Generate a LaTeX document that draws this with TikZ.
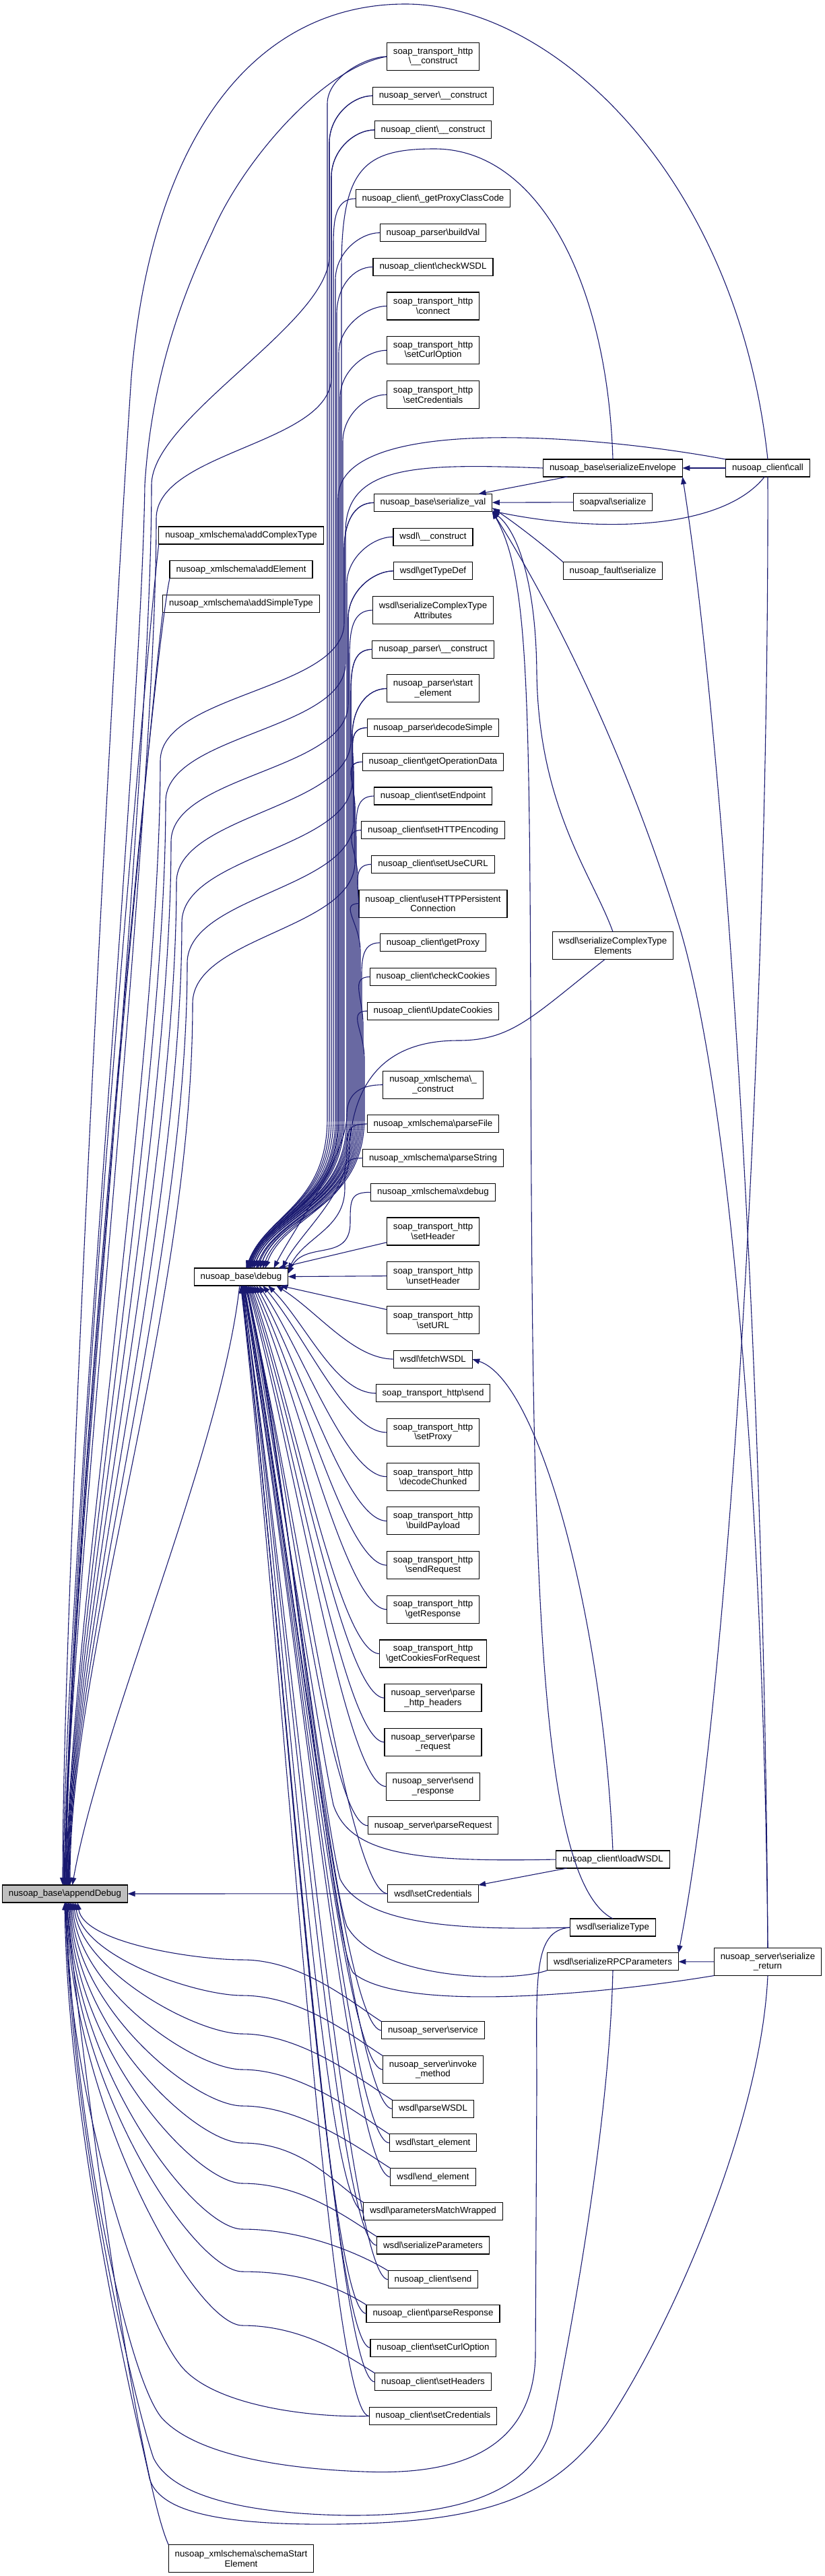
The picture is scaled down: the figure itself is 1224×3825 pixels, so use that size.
\documentclass[tikz,border=0pt]{standalone}
\usepackage{fontspec}
\newfontfamily\dxfont{Liberation Sans}
\usetikzlibrary{arrows.meta, positioning, calc}
\definecolor{dxedge}{RGB}{25, 25, 112}
\definecolor{dxsel}{RGB}{191, 191, 191}
\newcommand{\bsl}{\textbackslash}
% caller above debug: node, bundle x, anchor on debug
\newcommand{\calldn}[3]{%
  \draw[calls] (#1.west) .. controls +(-30,0) and +(0,-40) .. ($(#2,0 |- #1.west)+(0,70)$)
    -- (#2,1660) .. controls (#2,1790) and ($(debug.#3)+(30,-80)$) .. (debug.#3);}
% second edge of such a caller, down to appendDebug: node, bundle x, S top, lane x, S end, anchor
\newcommand{\calladb}[6]{%
  \draw[calls] (#1.west) .. controls +(-30,0) and +(0,-40) .. ($(#2,0 |- #1.west)+(0,70)$)
    -- (#2,#3) .. controls (#2,#3+100) and (#4,#5-100) .. (#4,#5)
    .. controls (#4,#5+450) and ($(appendDebug.#6)+(0,-350)$) .. (appendDebug.#6);}
% caller close above debug: node, bundle x, anchor
\newcommand{\callnear}[3]{%
  \draw[calls] (#1.west) .. controls +(-30,0) and +(0,-35) .. ($(#2,0 |- #1.west)+(0,45)$)
    .. controls +(0,60) and ($(debug.#3)+(25,-50)$) .. (debug.#3);}
% caller below debug: node, anchor on debug
\newcommand{\callup}[2]{%
  \draw[calls] (#1.west) .. controls +(-60,0) and ($(debug.#2)!0.35!(#1.west)$) .. (debug.#2);}
% caller below appendDebug: node, wave y, anchor, pull
\newcommand{\callbelow}[4]{%
  \draw[calls] (#1.north west) .. controls +(-40,-25) and +(90,0) .. (360,#2)
    .. controls (290,#2) and ($(appendDebug.#3)+(10,#4)$) .. (appendDebug.#3);}

\begin{document}
\begin{tikzpicture}[x=1pt, y=-1pt,
  node distance=24.7pt,
  fn/.style={rectangle, draw=black, line width=1.1pt, fill=white, align=center,
             font=\dxfont\fontsize{13.3}{14.7}\selectfont, outer sep=0pt,
             inner xsep=9.5pt, inner ysep=4pt, minimum height=26pt},
  fn2/.style={fn, minimum height=41pt},
  fnsel/.style={fn, fill=dxsel},
  calls/.style={draw=dxedge, line width=1.1pt, -{Triangle[length=11pt, width=8pt]}}
]
  \useasboundingbox (0,0) rectangle (1224,3825);

  % the function and its nearest callers
  \node[fnsel] (appendDebug) at (96.5,2812) {nusoap\_base\bsl{}appendDebug};
  \node[fn] (addct) at (358,795) {nusoap\_xmlschema\bsl{}addComplexType};
  \node[fn, below=of addct] (addel) {nusoap\_xmlschema\bsl{}addElement};
  \node[fn, below=of addel] (addst) {nusoap\_xmlschema\bsl{}addSimpleType};
  \node[fn] (debug) at (358,1896) {nusoap\_base\bsl{}debug};
  \node[fn2] (sse) at (358,3799) {nusoap\_xmlschema\bsl{}schemaStart\\Element};

  % callers of debug
  \node[fn2] (stcon) at (643,84) {soap\_transport\_http\\\bsl{}\_\_construct};
  \node[fn, below=of stcon] (srvcon) {nusoap\_server\bsl{}\_\_construct};
  \node[fn, below=of srvcon] (clicon) {nusoap\_client\bsl{}\_\_construct};
  \node[fn, below=76pt of clicon] (proxycode) {nusoap\_client\bsl{}\_getProxyClassCode};
  \node[fn, below=of proxycode] (buildval) {nusoap\_parser\bsl{}buildVal};
  \node[fn, below=of buildval] (checkwsdl) {nusoap\_client\bsl{}checkWSDL};
  \node[fn2, below=of checkwsdl] (connect) {soap\_transport\_http\\\bsl{}connect};
  \node[fn2, below=of connect] (stcurl) {soap\_transport\_http\\\bsl{}setCurlOption};
  \node[fn2, below=of stcurl] (stcred) {soap\_transport\_http\\\bsl{}setCredentials};
  \node[fn, below=127pt of stcred] (serval) {nusoap\_base\bsl{}serialize\_val};
  \node[fn, below=of serval] (wsdlcon) {wsdl\bsl{}\_\_construct};
  \node[fn, below=of wsdlcon] (typedef) {wsdl\bsl{}getTypeDef};
  \node[fn2, below=of typedef] (ctattr) {wsdl\bsl{}serializeComplexType\\Attributes};
  \node[fn, below=of ctattr] (parsercon) {nusoap\_parser\bsl{}\_\_construct};
  \node[fn2, below=of parsercon] (parserstart) {nusoap\_parser\bsl{}start\\\_element};
  \node[fn, below=of parserstart] (decsimple) {nusoap\_parser\bsl{}decodeSimple};
  \node[fn, below=of decsimple] (opdata) {nusoap\_client\bsl{}getOperationData};
  \node[fn, below=of opdata] (endpoint) {nusoap\_client\bsl{}setEndpoint};
  \node[fn, below=of endpoint] (httpenc) {nusoap\_client\bsl{}setHTTPEncoding};
  \node[fn, below=of httpenc] (usecurl) {nusoap\_client\bsl{}setUseCURL};
  \node[fn2, below=of usecurl] (persist) {nusoap\_client\bsl{}useHTTPPersistent\\Connection};
  \node[fn, below=of persist] (getproxy) {nusoap\_client\bsl{}getProxy};
  \node[fn, below=of getproxy] (checkcook) {nusoap\_client\bsl{}checkCookies};
  \node[fn, below=of checkcook] (updcook) {nusoap\_client\bsl{}UpdateCookies};
  \node[fn2, below=76pt of updcook] (xscon) {nusoap\_xmlschema\bsl{}\_\\\_construct};
  \node[fn, below=of xscon] (parsefile) {nusoap\_xmlschema\bsl{}parseFile};
  \node[fn, below=of parsefile] (parsestr) {nusoap\_xmlschema\bsl{}parseString};
  \node[fn, below=of parsestr] (xdebug) {nusoap\_xmlschema\bsl{}xdebug};
  \node[fn2, below=of xdebug] (sethdr) {soap\_transport\_http\\\bsl{}setHeader};
  \node[fn2, below=of sethdr] (unsethdr) {soap\_transport\_http\\\bsl{}unsetHeader};
  \node[fn2, below=of unsethdr] (seturl) {soap\_transport\_http\\\bsl{}setURL};
  \node[fn, below=of seturl] (fetch) {wsdl\bsl{}fetchWSDL};
  \node[fn, below=of fetch] (stsend) {soap\_transport\_http\bsl{}send};
  \node[fn2, below=of stsend] (setproxy) {soap\_transport\_http\\\bsl{}setProxy};
  \node[fn2, below=of setproxy] (chunked) {soap\_transport\_http\\\bsl{}decodeChunked};
  \node[fn2, below=of chunked] (payload) {soap\_transport\_http\\\bsl{}buildPayload};
  \node[fn2, below=of payload] (sendreq) {soap\_transport\_http\\\bsl{}sendRequest};
  \node[fn2, below=of sendreq] (getresp) {soap\_transport\_http\\\bsl{}getResponse};
  \node[fn2, below=of getresp] (cookreq) {soap\_transport\_http\\\bsl{}getCookiesForRequest};
  \node[fn2, below=of cookreq] (httphdr) {nusoap\_server\bsl{}parse\\\_http\_headers};
  \node[fn2, below=of httphdr] (parsereq) {nusoap\_server\bsl{}parse\\\_request};
  \node[fn2, below=of parsereq] (sendresp) {nusoap\_server\bsl{}send\\\_response};
  \node[fn, below=of sendresp] (parserequest) {nusoap\_server\bsl{}parseRequest};
  \node[fn, below=75pt of parserequest] (wsdlcred) {wsdl\bsl{}setCredentials};
  \node[fn, below=177pt of wsdlcred] (service) {nusoap\_server\bsl{}service};
  \node[fn2, below=of service] (invoke) {nusoap\_server\bsl{}invoke\\\_method};
  \node[fn, below=of invoke] (parsewsdl) {wsdl\bsl{}parseWSDL};
  \node[fn, below=of parsewsdl] (wstart) {wsdl\bsl{}start\_element};
  \node[fn, below=of wstart] (wend) {wsdl\bsl{}end\_element};
  \node[fn, below=of wend] (pmwrap) {wsdl\bsl{}parametersMatchWrapped};
  \node[fn, below=of pmwrap] (serparams) {wsdl\bsl{}serializeParameters};
  \node[fn, below=of serparams] (clisend) {nusoap\_client\bsl{}send};
  \node[fn, below=of clisend] (parseresp) {nusoap\_client\bsl{}parseResponse};
  \node[fn, below=of parseresp] (clicurl) {nusoap\_client\bsl{}setCurlOption};
  \node[fn, below=of clicurl] (clihdrs) {nusoap\_client\bsl{}setHeaders};
  \node[fn, below=of clihdrs] (clicred) {nusoap\_client\bsl{}setCredentials};

  % further callers
  \node[fn] (env) at (910,695) {nusoap\_base\bsl{}serializeEnvelope};
  \node[fn, below=of env] (soapser) {soapval\bsl{}serialize};
  \node[fn, below=76pt of soapser] (fault) {nusoap\_fault\bsl{}serialize};
  \node[fn2] (ctelem) at (910,1404) {wsdl\bsl{}serializeComplexType\\Elements};
  \node[fn] (loadwsdl) at (910,2761) {nusoap\_client\bsl{}loadWSDL};
  \node[fn, below=75pt of loadwsdl] (sertype) {wsdl\bsl{}serializeType};
  \node[fn, below=of sertype] (rpc) {wsdl\bsl{}serializeRPCParameters};
  \node[fn] (call) at (1140,695) {nusoap\_client\bsl{}call};
  \node[fn2] (serret) at (1140,2913) {nusoap\_server\bsl{}serialize\\\_return};

  % into appendDebug, from above
  \draw[calls] (call.north) .. controls (1095,260) and (820,6) .. (602,6)
    .. controls (380,6) and (225,200) .. (195,560)
    .. controls (172,900) and ($(appendDebug.105)+(0,-450)$) .. (appendDebug.105);
  \draw[calls] (stcon.west) .. controls (480,100) and (360,240) .. (315,345)
    .. controls (270,440) and (225,560) .. (215,720)
    .. controls (210,1100) and ($(appendDebug.100)+(0,-420)$) .. (appendDebug.100);
  \calladb{srvcon}{489}{380}{225}{720}{95}
  \calladb{clicon}{492}{560}{232}{770}{90}
  \draw[calls] (addct.south west) .. controls +(-15,120) and ($(appendDebug.87)+(0,-450)$) .. (appendDebug.87);
  \draw[calls] (addel.south west) .. controls +(-25,110) and ($(appendDebug.84)+(0,-450)$) .. (appendDebug.84);
  \draw[calls] (addst.south west) .. controls +(-12,90) and ($(appendDebug.81)+(0,-450)$) .. (appendDebug.81);
  \calladb{serval}{511}{925}{238}{1130}{78}
  \draw[calls] (env.west) .. controls (620,688) and (513,690) .. (513,790) -- (513,985)
    .. controls (513,1085) and (246,1090) .. (246,1190)
    .. controls (246,1640) and ($(appendDebug.75)+(0,-350)$) .. (appendDebug.75);
  \calladb{typedef}{517}{1045}{254}{1250}{72}
  \calladb{parsercon}{521}{1100}{262}{1310}{69}
  \calladb{parserstart}{523}{1160}{270}{1370}{66}
  \calladb{decsimple}{525}{1220}{278}{1430}{63}
  \calladb{opdata}{527}{1280}{286}{1490}{60}
  \draw[calls] (debug.-100) .. controls (330,2150) and (150,2560) .. (appendDebug.50);
  \draw[calls] (wsdlcred) -- (appendDebug);

  % into debug, from above
  \calldn{stcon}{486}{60}
  \calldn{srvcon}{489}{60}
  \calldn{clicon}{492}{60}
  \calldn{proxycode}{495}{55}
  \calldn{buildval}{498}{55}
  \calldn{checkwsdl}{500}{55}
  \calldn{connect}{503}{50}
  \calldn{stcurl}{505}{50}
  \calldn{stcred}{509}{50}
  \calldn{serval}{511}{45}
  \calldn{wsdlcon}{515}{45}
  \calldn{typedef}{517}{45}
  \calldn{ctattr}{519}{40}
  \calldn{parsercon}{521}{40}
  \calldn{parserstart}{523}{40}
  \calldn{decsimple}{525}{35}
  \calldn{opdata}{527}{35}
  \calldn{endpoint}{529}{35}
  \calldn{httpenc}{531}{30}
  \calldn{usecurl}{533}{30}
  \calldn{persist}{535}{28}
  \calldn{getproxy}{537}{25}
  \calldn{checkcook}{539}{22}
  \calldn{updcook}{541}{20}
  \draw[calls] (call.north west) .. controls (880,645) and (502,615) .. (502,740) -- (502,1660)
    .. controls (502,1790) and ($(debug.50)+(30,-80)$) .. (debug.50);
  \draw[calls] (env.north) .. controls (902,420) and (800,221) .. (645,221)
    .. controls (540,221) and (507,250) .. (507,400) -- (507,1660)
    .. controls (507,1790) and ($(debug.50)+(30,-80)$) .. (debug.50);
  \draw[calls] (ctelem.-120) .. controls (790,1510) and (760,1545) .. (680,1545)
    .. controls (560,1545) and (520,1620) .. (518,1720)
    .. controls (516,1800) and ($(debug.25)+(30,-80)$) .. (debug.25);
  \callnear{xscon}{515}{15}
  \callnear{parsefile}{515}{12}
  \callnear{parsestr}{512}{8}
  \callnear{xdebug}{520}{4}
  \draw[calls] (sethdr) -- (debug);
  \draw[calls] (unsethdr) -- (debug);
  \draw[calls] (seturl) -- (debug);

  % into debug, from below
  \callup{fetch}{-14}
  \callup{stsend}{-18}
  \callup{setproxy}{-22}
  \callup{chunked}{-26}
  \callup{payload}{-30}
  \callup{sendreq}{-34}
  \callup{getresp}{-38}
  \callup{cookreq}{-42}
  \callup{httphdr}{-46}
  \callup{parsereq}{-50}
  \callup{sendresp}{-54}
  \callup{parserequest}{-58}
  \draw[calls] (loadwsdl.west) .. controls (620,2765) and (520,2755) .. (495,2680)
    .. controls (470,2560) and (400,2100) .. (debug.-60);
  \callup{wsdlcred}{-62}
  \draw[calls] (sertype.west) .. controls (700,2866) and (540,2862) .. (505,2790)
    .. controls (480,2700) and (410,2100) .. (debug.-64);
  \draw[calls] (rpc.south west) .. controls (760,2945) and (560,2940) .. (515,2860)
    .. controls (485,2780) and (415,2100) .. (debug.-66);
  \draw[calls] (serret.south west) .. controls (900,2960) and (600,2990) .. (525,2930)
    .. controls (490,2890) and (420,2100) .. (debug.-68);
  \callup{service}{-70}
  \callup{invoke}{-72}
  \callup{parsewsdl}{-74}
  \callup{wstart}{-76}
  \callup{wend}{-78}
  \callup{pmwrap}{-80}
  \callup{serparams}{-82}
  \callup{clisend}{-84}
  \callup{parseresp}{-86}
  \callup{clicurl}{-88}
  \callup{clihdrs}{-90}
  \callup{clicred}{-92}

  % into appendDebug, from below
  \callbelow{service}{2910}{-35}{60}
  \callbelow{invoke}{2963}{-40}{80}
  \callbelow{parsewsdl}{3020}{-45}{100}
  \callbelow{wstart}{3073}{-50}{130}
  \callbelow{wend}{3127}{-55}{160}
  \callbelow{pmwrap}{3182}{-60}{190}
  \callbelow{serparams}{3242}{-65}{220}
  \callbelow{clisend}{3310}{-70}{250}
  \callbelow{parseresp}{3373}{-75}{280}
  \callbelow{clihdrs}{3453}{-80}{310}
  \draw[calls] (clicred.west) .. controls (470,3590) and (330,3575) .. (275,3520)
    .. controls (215,3460) and ($(appendDebug.-86)+(5,300)$) .. (appendDebug.-86);
  \draw[calls] (sertype.west) .. controls (790,2866) and (797,2940) .. (797,3100) -- (795,3500)
    .. controls (790,3650) and (660,3675) .. (540,3670)
    .. controls (400,3665) and (285,3640) .. (240,3590)
    .. controls (190,3530) and ($(appendDebug.-85)+(15,350)$) .. (appendDebug.-85);
  \draw[calls] (rpc.south) .. controls (905,3150) and (850,3450) .. (820,3600)
    .. controls (790,3715) and (650,3735) .. (520,3735)
    .. controls (360,3733) and (255,3705) .. (228,3650)
    .. controls (200,3570) and ($(appendDebug.-88)+(10,350)$) .. (appendDebug.-88);
  \draw[calls] (serret.south) .. controls (1130,3150) and (1000,3450) .. (900,3600)
    .. controls (820,3710) and (720,3745) .. (500,3748)
    .. controls (310,3750) and (235,3725) .. (222,3680)
    .. controls (205,3600) and ($(appendDebug.-92)+(5,350)$) .. (appendDebug.-92);
  \draw[calls] (sse.north west) .. controls (215,3700) and (150,3300) .. (appendDebug.-83);

  % the serializers on the right
  \draw[calls] (call) -- (env);
  \draw[calls] (env) -- (serval);
  \draw[calls] (soapser) -- (serval);
  \draw[calls] (fault.north west) .. controls (820,820) and (770,780) .. (serval.-5);
  \draw[calls] (call.-110) .. controls (1070,790) and (880,790) .. (serval.-8);
  \draw[calls] (ctelem.north) .. controls (880,1300) and (800,1200) .. (797,1000)
    .. controls (796,870) and (770,790) .. (serval.south east);
  \draw[calls] (sertype.north) .. controls (795,2790) and (790,2300) .. (788,1500)
    .. controls (786,1000) and (782,850) .. (serval.south east);
  \draw[calls] (serret.north) .. controls (1135,2300) and (1090,1650) .. (1010,1380)
    .. controls (930,1120) and (820,900) .. (serval.south east);
  \draw[calls] (serret.north) .. controls (1135,2000) and (1075,1100) .. (env.south east);
  \draw[calls] (call.south) .. controls (1142,1500) and (1085,2500) .. (rpc.north east);
  \draw[calls] (serret) -- (rpc);
  \draw[calls] (loadwsdl.north) .. controls (895,2400) and (800,2050) .. (fetch.east);
  \draw[calls] (loadwsdl) -- (wsdlcred);
\end{tikzpicture}
\end{document}
